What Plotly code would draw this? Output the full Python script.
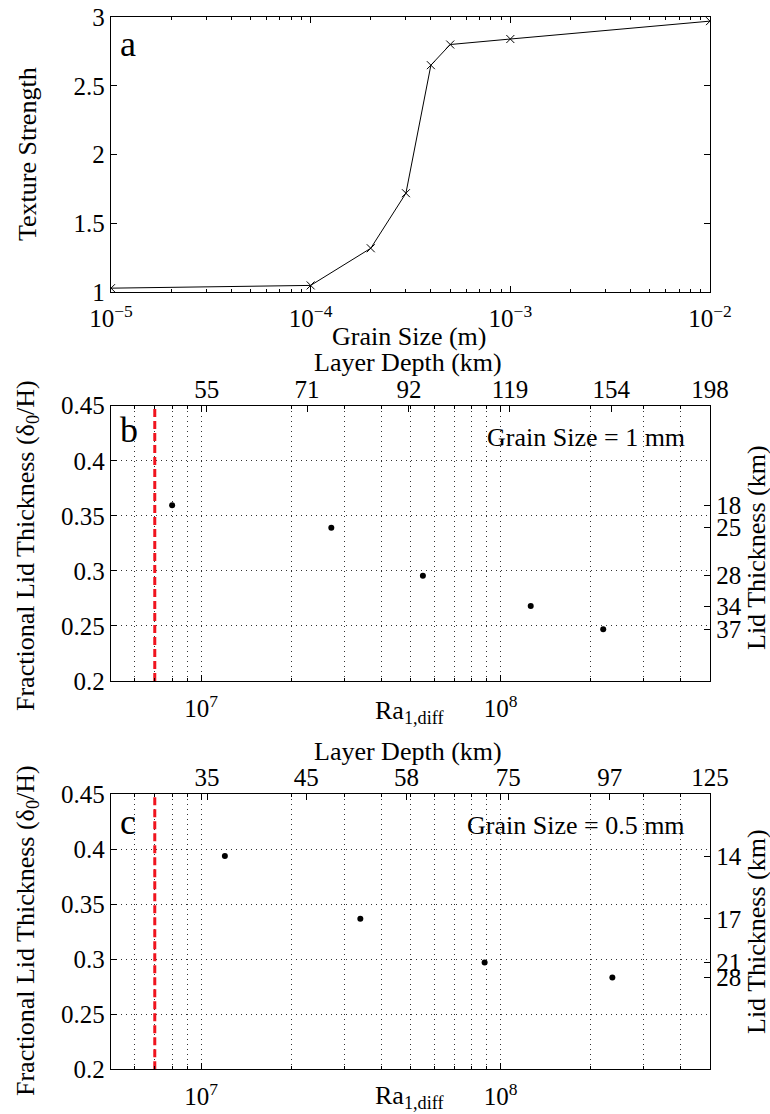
import numpy as np
import plotly.graph_objects as go

W, H = 770, 1114
FONT = "Liberation Serif"

# ---------------- data ----------------
# panel a
grain_size_m = [1e-5, 1e-4, 2e-4, 3e-4, 4e-4, 5e-4, 1e-3, 1e-2]
texture_strength = [1.03, 1.05, 1.32, 1.72, 2.65, 2.80, 2.84, 2.97]
grain_ticks = [1e-5, 1e-4, 1e-3, 1e-2]
grain_ticktext = ["10<sup>−5</sup>", "10<sup>−4</sup>", "10<sup>−3</sup>", "10<sup>−2</sup>"]
texture_ticks = [1, 1.5, 2, 2.5, 3]
texture_ticktext = ["1", "1.5", "2", "2.5", "3"]

# panel b (grain size = 1 mm)
ra_b = [8.0e6, 2.72e7, 5.5e7, 1.26e8, 2.2e8]
frac_b = [0.3595, 0.3392, 0.2956, 0.2681, 0.247]
lid_b_labels = ["18", "25", "28", "34", "37"]
depth_b_ticks = [55, 71, 92, 119, 154, 198]
depth_b_range = [43.1, 198]

# panel c (grain size = 0.5 mm)
ra_c = [1.2e7, 3.4e7, 8.84e7, 2.36e8]
frac_c = [0.3936, 0.3367, 0.2969, 0.2833]
lid_c_labels = ["14", "17", "21", "28"]
depth_c_ticks = [35, 45, 58, 75, 97, 125]
depth_c_range = [27.45, 125]

# shared for b, c
ra_range = [5e6, 5e8]
ra_ticks = [1e7, 1e8]
ra_ticktext = ["10<sup>7</sup>", "10<sup>8</sup>"]
ra_crit = 7.0e6
frac_range = [0.2, 0.45]
frac_ticks = [0.2, 0.25, 0.3, 0.35, 0.4, 0.45]
frac_ticktext = ["0.2", "0.25", "0.3", "0.35", "0.4", "0.45"]


def px(x):
    return x / W


def py(y):
    return 1 - y / H


XDOM = [px(111), px(710)]
DOM_A = [py(292.3), py(17)]
DOM_B = [py(681), py(405.7)]
DOM_C = [py(1069.3), py(794)]

TICKFONT = dict(family=FONT, size=25, color="black")
GRIDCOL = "#333333"
GRIDDASH = "1px,4px"

fig = go.Figure()

# panel a
fig.add_trace(go.Scatter(
    x=grain_size_m, y=texture_strength, mode="lines+markers",
    line=dict(color="black", width=1),
    marker=dict(symbol="x-thin-open", size=8, line=dict(color="black", width=1)),
    xaxis="x", yaxis="y", showlegend=False, hoverinfo="skip"))


def panel(ra, frac, xa, ya, xt, yr):
    # critical line
    fig.add_trace(go.Scatter(
        x=[ra_crit, ra_crit], y=frac_range, mode="lines",
        line=dict(color="#f0141e", width=3, dash="8px,4px"),
        xaxis=xa, yaxis=ya, showlegend=False, hoverinfo="skip"))
    fig.add_trace(go.Scatter(
        x=ra, y=frac, mode="markers",
        marker=dict(symbol="circle", size=6, color="black"),
        xaxis=xa, yaxis=ya, showlegend=False, hoverinfo="skip"))
    # invisible helper so the right axis gets drawn
    fig.add_trace(go.Scatter(
        x=ra, y=frac, mode="markers", marker=dict(opacity=0),
        xaxis=xa, yaxis=yr, showlegend=False, hoverinfo="skip"))


panel(ra_b, frac_b, "x2", "y2", "x3", "y3")
fig.add_trace(go.Scatter(x=depth_b_ticks[:1], y=frac_range[:1], mode="markers",
                         marker=dict(opacity=0), xaxis="x3", yaxis="y2",
                         showlegend=False, hoverinfo="skip"))
panel(ra_c, frac_c, "x4", "y4", "x5", "y5")
fig.add_trace(go.Scatter(x=depth_c_ticks[:1], y=frac_range[:1], mode="markers",
                         marker=dict(opacity=0), xaxis="x5", yaxis="y4",
                         showlegend=False, hoverinfo="skip"))

common = dict(showline=True, linecolor="black", linewidth=1.3, ticks="inside",
              ticklen=6, tickcolor="black", tickwidth=1, tickfont=TICKFONT,
              zeroline=False, automargin=False)

minor_plain = dict(ticks="inside", ticklen=3, tickcolor="black", dtick="D1", showgrid=False)
minor_grid = dict(ticks="inside", ticklen=3, tickcolor="black", dtick="D1", showgrid=True,
                  gridcolor=GRIDCOL, griddash=GRIDDASH, gridwidth=1)

fig.update_layout(
    width=W, height=H, margin=dict(l=0, r=0, t=0, b=0),
    paper_bgcolor="white", plot_bgcolor="white",
    font=dict(family=FONT, size=26, color="black"),
    xaxis=dict(domain=XDOM, anchor="y", type="log",
               range=[np.log10(grain_ticks[0]), np.log10(grain_ticks[-1])],
               tickmode="array", tickvals=grain_ticks, ticktext=grain_ticktext,
               mirror="ticks", showgrid=False, minor=minor_plain,
               ticklabelstandoff=4, **common),
    yaxis=dict(domain=DOM_A, anchor="x", range=[texture_ticks[0], texture_ticks[-1]],
               tickmode="array", tickvals=texture_ticks, ticktext=texture_ticktext,
               mirror="ticks", showgrid=False, **common),
    # panel b
    xaxis2=dict(domain=XDOM, anchor="y2", type="log",
                range=[np.log10(ra_range[0]), np.log10(ra_range[1])],
                tickmode="array", tickvals=ra_ticks, ticktext=ra_ticktext,
                mirror="ticks", showgrid=True, gridcolor=GRIDCOL, griddash=GRIDDASH,
                minor=minor_grid, ticklabelstandoff=5, **common),
    yaxis2=dict(domain=DOM_B, anchor="x2", range=frac_range,
                tickmode="array", tickvals=frac_ticks, ticktext=frac_ticktext,
                mirror=True, showgrid=True, gridcolor=GRIDCOL, griddash=GRIDDASH, **common),
    xaxis3=dict(overlaying="x2", anchor="y2", side="top", type="log",
                range=[np.log10(depth_b_range[0]), np.log10(depth_b_range[1])],
                tickmode="array", tickvals=depth_b_ticks,
                ticktext=[str(v) for v in depth_b_ticks], showgrid=False,
                ticklabelstandoff=-3, **common),
    yaxis3=dict(overlaying="y2", anchor="x2", side="right", range=frac_range,
                tickmode="array", tickvals=frac_b, ticktext=lid_b_labels,
                showgrid=False, **common),
    # panel c
    xaxis4=dict(domain=XDOM, anchor="y4", type="log",
                range=[np.log10(ra_range[0]), np.log10(ra_range[1])],
                tickmode="array", tickvals=ra_ticks, ticktext=ra_ticktext,
                mirror="ticks", showgrid=True, gridcolor=GRIDCOL, griddash=GRIDDASH,
                minor=minor_grid, ticklabelstandoff=5, **common),
    yaxis4=dict(domain=DOM_C, anchor="x4", range=frac_range,
                tickmode="array", tickvals=frac_ticks, ticktext=frac_ticktext,
                mirror=True, showgrid=True, gridcolor=GRIDCOL, griddash=GRIDDASH, **common),
    xaxis5=dict(overlaying="x4", anchor="y4", side="top", type="log",
                range=[np.log10(depth_c_range[0]), np.log10(depth_c_range[1])],
                tickmode="array", tickvals=depth_c_ticks,
                ticktext=[str(v) for v in depth_c_ticks], showgrid=False,
                ticklabelstandoff=-3, **common),
    yaxis5=dict(overlaying="y4", anchor="x4", side="right", range=frac_range,
                tickmode="array", tickvals=frac_c, ticktext=lid_c_labels,
                showgrid=False, **common),
)


def ann(text, x, y, size=26, angle=0, xanchor="center", yanchor="middle"):
    fig.add_annotation(text=text, x=px(x), y=py(y), xref="paper", yref="paper",
                       showarrow=False, textangle=angle, xanchor=xanchor,
                       yanchor=yanchor, font=dict(family=FONT, size=size, color="black"))


# panel a texts
ann("a", 128, 44, size=36)
ann("Texture Strength", 27, 154, angle=-90)
ann("Grain Size (m)", 409, 337)
# panel b texts
ann("b", 129, 430, size=36)
ann("Layer Depth (km)", 408, 363)
ann("Fractional Lid Thickness (δ<sub>0</sub>/H)", 27, 546, angle=-90)
ann("Lid Thickness (km)", 756, 548, angle=-90)
ann("Ra<sub>1,diff</sub>", 410, 712)
ann("Grain Size = 1 mm", 687, 437, xanchor="right")
# panel c texts
ann("c", 128, 822, size=36)
ann("Layer Depth (km)", 408, 751)
ann("Fractional Lid Thickness (δ<sub>0</sub>/H)", 27, 931, angle=-90)
ann("Lid Thickness (km)", 756, 932, angle=-90)
ann("Ra<sub>1,diff</sub>", 410, 1097)
ann("Grain Size = 0.5 mm", 687, 825, xanchor="right")

fig.write_html("out.html")
